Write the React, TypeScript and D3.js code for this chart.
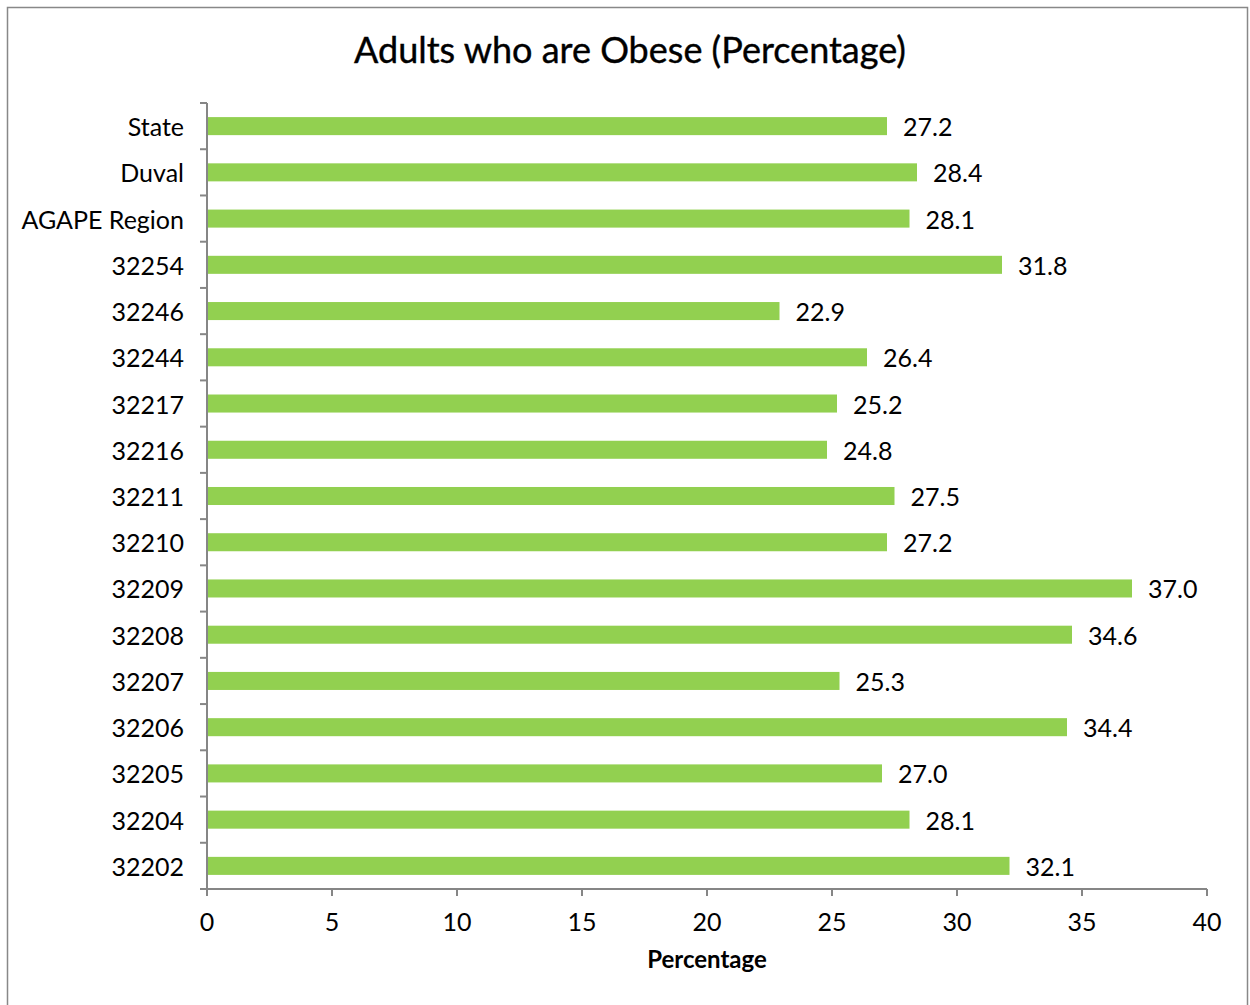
import React from 'react';
import * as d3 from 'd3';

const categories = ['State', 'Duval', 'AGAPE Region', '32254', '32246', '32244', '32217', '32216', '32211', '32210', '32209', '32208', '32207', '32206', '32205', '32204', '32202'];
const values = [27.2, 28.4, 28.1, 31.8, 22.9, 26.4, 25.2, 24.8, 27.5, 27.2, 37.0, 34.6, 25.3, 34.4, 27.0, 28.1, 32.1];
const xTicks = [0, 5, 10, 15, 20, 25, 30, 35, 40];

const W = 1250;
const H = 1005;
const margin = { top: 103, right: 43, bottom: 116, left: 207 };
const font = "Lato, 'Liberation Sans', sans-serif";
const axisColor = '#868686';
const barColor = '#92D050';

const App: React.FC = () => {
    const innerW = W - margin.left - margin.right;
    const innerH = H - margin.top - margin.bottom;

    const x = d3.scaleLinear().domain([0, 40]).range([0, innerW]);
    const y = d3.scaleBand<string>().domain(categories).range([0, innerH]).paddingInner(0.61).paddingOuter(0.305);
    // band boundaries for the category ticks
    const step = innerH / categories.length;
    const catTicks = d3.range(categories.length + 1).map(i => i * step);

    return (
        <svg width={W} height={H} style={{ position: 'absolute', left: 0, top: 0, background: '#fff' }}>
            <rect x={7.5} y={7.5} width={1240} height={1010} fill="#fff" stroke="#888" strokeWidth={1.5} />
            <text x={630} y={63} textAnchor="middle" fontFamily={font} fontSize={36} fill="#000" stroke="#000" strokeWidth={0.4}>
                Adults who are Obese (Percentage)
            </text>
            <g transform={`translate(${margin.left},${margin.top})`}>
                {categories.map((c, i) => (
                    <rect key={c} x={x(0)} y={y(c)} width={x(values[i]) - x(0)} height={y.bandwidth()} fill={barColor} />
                ))}
                {categories.map((c, i) => (
                    <text key={c} x={x(values[i]) + 16} y={(y(c) as number) + y.bandwidth() / 2 + 10}
                        fontFamily={font} fontSize={25} fill="#000">
                        {values[i].toFixed(1)}
                    </text>
                ))}
                {/* y axis */}
                <line x1={0} x2={0} y1={0} y2={innerH} stroke={axisColor} strokeWidth={2} />
                {catTicks.map((t, i) => (
                    <line key={i} x1={-7} x2={0} y1={t} y2={t} stroke={axisColor} strokeWidth={2} />
                ))}
                {categories.map(c => (
                    <text key={c} x={-23} y={(y(c) as number) + y.bandwidth() / 2 + 10} textAnchor="end"
                        fontFamily={font} fontSize={25} fill="#000">
                        {c}
                    </text>
                ))}
                {/* x axis */}
                <line x1={0} x2={innerW} y1={innerH} y2={innerH} stroke={axisColor} strokeWidth={2} />
                {xTicks.map(t => (
                    <g key={t}>
                        <line x1={x(t)} x2={x(t)} y1={innerH} y2={innerH + 7} stroke={axisColor} strokeWidth={2} />
                        <text x={x(t)} y={innerH + 42} textAnchor="middle" fontFamily={font} fontSize={25} fill="#000">{t}</text>
                    </g>
                ))}
                <text x={innerW / 2} y={innerH + 79} textAnchor="middle" fontFamily={font} fontSize={24} fontWeight="bold" fill="#000">
                    Percentage
                </text>
            </g>
        </svg>
    );
};

export default App;
